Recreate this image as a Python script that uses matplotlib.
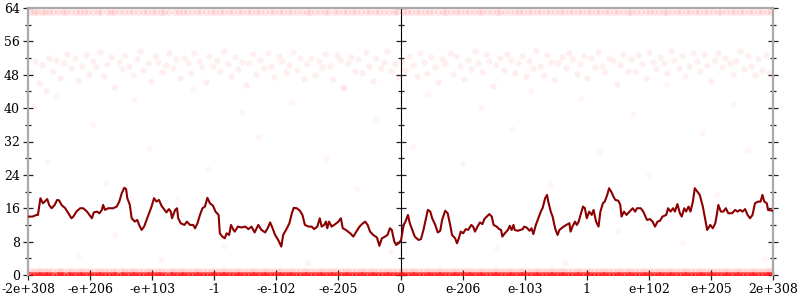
import matplotlib
matplotlib.use("Agg")
import matplotlib.pyplot as plt
from matplotlib.ticker import MultipleLocator, NullFormatter

plt.rcParams['font.family'] = ['DejaVu Serif']

# -----------------------------
# tick labels (ordinal positions of floats)
# -----------------------------
tick_pos = [-6, -5, -4, -3, -2, -1, 0, 1, 2, 3, 4, 5, 6]
tick_labels = ["-2e+308", "-e+206", "-e+103", "-1", "-e-102", "-e-205", "0",
               "e-206", "e-103", "1", "e+102", "e+205", "2e+308"]

# -----------------------------
# average error line
# -----------------------------
line_x = [-6.00, -5.93, -5.86, -5.84, -5.80, -5.76, -5.73, -5.69, -5.66, -5.62, -5.57, -5.53,
          -5.50, -5.46, -5.40, -5.35, -5.30, -5.27, -5.22, -5.16, -5.11, -5.05, -5.01, -4.97,
          -4.94, -4.89, -4.85, -4.81, -4.79, -4.76, -4.71, -4.63, -4.57, -4.53, -4.49, -4.45,
          -4.42, -4.40, -4.36, -4.33, -4.28, -4.24, -4.21, -4.17, -4.13, -4.09, -4.01, -3.97,
          -3.93, -3.89, -3.85, -3.80, -3.77, -3.73, -3.70, -3.68, -3.63, -3.60, -3.58, -3.54,
          -3.48, -3.44, -3.39, -3.34, -3.31, -3.27, -3.23, -3.19, -3.15, -3.11, -3.07, -3.02,
          -2.98, -2.93, -2.91, -2.87, -2.83, -2.80, -2.76, -2.73, -2.69, -2.67, -2.62, -2.56,
          -2.50, -2.45, -2.40, -2.35, -2.29, -2.24, -2.18, -2.14, -2.10, -2.06, -2.02, -1.97,
          -1.92, -1.89, -1.83, -1.79, -1.75, -1.72, -1.67, -1.62, -1.58, -1.54, -1.48, -1.43,
          -1.39, -1.34, -1.30, -1.27, -1.23, -1.20, -1.18, -1.15, -1.11, -1.05, -1.00, -0.96,
          -0.93, -0.88, -0.81, -0.76, -0.72, -0.66, -0.62, -0.57, -0.53, -0.49, -0.44, -0.38,
          -0.34, -0.30, -0.25, -0.21, -0.17, -0.14, -0.10, -0.07, -0.03, 0.01, 0.05, 0.08,
          0.12, 0.15, 0.19, 0.23, 0.29, 0.33, 0.37, 0.41, 0.44, 0.48, 0.51, 0.56,
          0.60, 0.64, 0.67, 0.72, 0.76, 0.80, 0.83, 0.88, 0.91, 0.94, 0.97, 1.01,
          1.05, 1.09, 1.14, 1.17, 1.20, 1.24, 1.28, 1.32, 1.35, 1.39, 1.43, 1.47,
          1.50, 1.55, 1.59, 1.62, 1.64, 1.68, 1.73, 1.76, 1.79, 1.82, 1.84, 1.89,
          1.93, 1.97, 1.99, 2.03, 2.08, 2.11, 2.14, 2.18, 2.22, 2.26, 2.29, 2.33,
          2.36, 2.38, 2.42, 2.45, 2.49, 2.53, 2.56, 2.61, 2.67, 2.72, 2.74, 2.77,
          2.81, 2.84, 2.87, 2.90, 2.94, 2.97, 3.00, 3.04, 3.08, 3.11, 3.15, 3.19,
          3.22, 3.26, 3.29, 3.33, 3.36, 3.40, 3.43, 3.46, 3.51, 3.54, 3.56, 3.60,
          3.64, 3.69, 3.74, 3.78, 3.81, 3.87, 3.91, 3.97, 4.02, 4.06, 4.10, 4.14,
          4.18, 4.22, 4.28, 4.31, 4.35, 4.39, 4.42, 4.46, 4.50, 4.53, 4.57, 4.60,
          4.64, 4.67, 4.71, 4.74, 4.78, 4.82, 4.87, 4.91, 4.94, 4.99, 5.03, 5.07,
          5.09, 5.12, 5.16, 5.20, 5.24, 5.28, 5.34, 5.39, 5.43, 5.47, 5.51, 5.55,
          5.59, 5.63, 5.67, 5.71, 5.76, 5.80, 5.83, 5.86, 5.90, 5.92, 6.00]
line_y = [14.0, 14.0, 14.4, 14.4, 18.4, 17.2, 17.6, 18.2, 16.8, 16.0, 16.8, 18.0,
          17.9, 16.8, 16.0, 14.8, 13.6, 14.0, 15.2, 16.0, 16.0, 15.2, 14.4, 13.6,
          15.0, 15.2, 14.8, 15.6, 16.8, 15.6, 16.0, 16.0, 16.4, 17.6, 19.6, 20.9,
          20.6, 18.4, 16.8, 13.6, 12.8, 13.2, 12.0, 10.8, 11.6, 13.2, 16.4, 18.4,
          17.6, 18.0, 16.6, 15.6, 15.0, 15.8, 15.2, 13.6, 15.6, 16.0, 13.6, 12.4,
          12.0, 12.8, 12.0, 12.0, 11.2, 12.4, 14.4, 16.0, 16.4, 18.5, 17.2, 16.6,
          15.2, 14.4, 10.0, 9.2, 8.8, 10.0, 9.6, 12.0, 10.8, 10.4, 11.6, 11.4,
          11.6, 11.0, 11.6, 10.2, 12.0, 10.8, 10.2, 11.2, 12.6, 11.2, 9.6, 8.4,
          6.8, 9.6, 11.2, 12.4, 14.8, 16.1, 16.0, 15.4, 14.4, 12.0, 11.6, 11.6,
          11.0, 11.6, 13.6, 11.6, 12.0, 12.8, 11.2, 12.8, 11.6, 12.2, 12.8, 13.6,
          11.2, 10.8, 10.0, 9.2, 10.2, 11.6, 12.2, 12.8, 12.0, 10.4, 9.6, 9.0,
          7.0, 8.8, 9.2, 9.6, 11.2, 10.8, 8.0, 7.2, 7.6, 8.4, 12.0, 12.8,
          14.4, 12.4, 10.8, 9.2, 8.4, 8.6, 10.8, 13.6, 15.6, 15.2, 13.6, 12.0,
          10.2, 10.6, 13.2, 15.4, 14.8, 12.0, 9.6, 8.8, 7.6, 8.8, 10.4, 10.0,
          11.0, 10.8, 12.0, 11.6, 10.4, 11.6, 12.6, 12.2, 13.4, 14.0, 14.6, 14.0,
          12.0, 11.6, 11.0, 10.8, 9.2, 10.0, 10.8, 11.8, 10.8, 12.0, 10.8, 10.6,
          10.8, 11.0, 11.6, 11.4, 10.6, 11.2, 9.8, 12.0, 13.6, 15.2, 16.1, 18.4,
          19.2, 17.6, 15.2, 14.0, 11.2, 9.6, 10.8, 11.4, 12.0, 12.4, 10.4, 11.6,
          12.8, 12.0, 12.8, 14.4, 16.4, 16.0, 13.6, 15.2, 14.4, 15.6, 12.8, 11.6,
          15.2, 17.2, 17.6, 19.2, 20.8, 19.8, 18.8, 18.0, 17.8, 16.8, 14.0, 15.2,
          14.4, 15.2, 16.0, 15.2, 16.0, 16.0, 15.2, 13.2, 13.4, 12.8, 11.6, 12.8,
          13.0, 14.0, 14.4, 16.0, 15.2, 16.0, 15.2, 17.0, 14.8, 14.0, 16.0, 15.2,
          16.4, 15.2, 17.6, 20.8, 20.0, 19.2, 16.4, 13.2, 10.8, 12.0, 11.2, 12.4,
          14.0, 16.8, 15.2, 15.2, 16.0, 14.8, 14.8, 15.6, 15.2, 15.6, 15.2, 15.8,
          14.4, 13.6, 14.4, 17.2, 17.6, 17.6, 19.2, 17.6, 17.2, 15.6, 15.4]

# -----------------------------
# individual samples (bits of error)
# -----------------------------
top_x = [-5.97, -5.91, -5.86, -5.78, -5.72, -5.66, -5.59, -5.51, -5.44, -5.38, -5.31, -5.23,
         -5.17, -5.09, -5.03, -4.96, -4.88, -4.82, -4.73, -4.66, -4.61, -4.53, -4.46, -4.38,
         -4.31, -4.23, -4.15, -4.08, -4.01, -3.94, -3.86, -3.81, -3.73, -3.64, -3.57, -3.51,
         -3.44, -3.36, -3.28, -3.21, -3.14, -3.06, -2.99, -2.91, -2.85, -2.76, -2.69, -2.61,
         -2.55, -2.47, -2.41, -2.32, -2.26, -2.18, -2.11, -2.03, -1.96, -1.89, -1.81, -1.74,
         -1.67, -1.59, -1.51, -1.45, -1.37, -1.29, -1.22, -1.16, -1.07, -1.01, -0.93, -0.86,
         -0.78, -0.71, -0.63, -0.56, -0.49, -0.41, -0.34, -0.27, -0.19, -0.11, -0.05, 0.04,
         0.10, 0.17, 0.25, 0.31, 0.39, 0.46, 0.53, 0.61, 0.68, 0.74, 0.82, 0.90,
         0.96, 1.04, 1.11, 1.18, 1.26, 1.32, 1.40, 1.47, 1.55, 1.61, 1.69, 1.76,
         1.84, 1.91, 1.98, 2.06, 2.12, 2.20, 2.27, 2.35, 2.41, 2.49, 2.57, 2.63,
         2.71, 2.78, 2.86, 2.93, 3.00, 3.07, 3.15, 3.22, 3.29, 3.36, 3.44, 3.51,
         3.58, 3.66, 3.72, 3.80, 3.87, 3.95, 4.02, 4.08, 4.16, 4.24, 4.30, 4.38,
         4.45, 4.52, 4.60, 4.67, 4.74, 4.81, 4.89, 4.96, 5.03, 5.11, 5.17, 5.25,
         5.32, 5.39, 5.47, 5.54, 5.61, 5.68, 5.76, 5.83, 5.90, 5.96]
top_y = 63.0

cloud_x = [-5.95, -5.89, -5.83, -5.78, -5.71, -5.66, -5.6, -5.55, -5.48, -5.42, -5.37, -5.31,
           -5.25, -5.2, -5.13, -5.07, -5.02, -4.95, -4.9, -4.84, -4.78, -4.72, -4.66, -4.61,
           -4.54, -4.49, -4.43, -4.37, -4.31, -4.25, -4.19, -4.14, -4.07, -4.02, -3.96, -3.9,
           -3.84, -3.78, -3.73, -3.66, -3.61, -3.55, -3.49, -3.43, -3.37, -3.32, -3.25, -3.2,
           -3.14, -3.08, -3.02, -2.96, -2.9, -2.85, -2.78, -2.73, -2.67, -2.61, -2.55, -2.49,
           -2.44, -2.37, -2.32, -2.26, -2.2, -2.14, -2.08, -2.03, -1.96, -1.91, -1.85, -1.79,
           -1.73, -1.67, -1.62, -1.55, -1.5, -1.44, -1.38, -1.32, -1.26, -1.21, -1.14, -1.09,
           -1.03, -0.97, -0.91, -0.85, -0.8, -0.73, -0.68, -0.62, -0.56, -0.5, -0.44, -0.39,
           -0.32, -0.27, -0.21, -0.15, -0.09, -0.04,
           0.03, 0.08, 0.14, 0.2, 0.26, 0.31, 0.38, 0.43, 0.49, 0.55, 0.61, 0.67,
           0.72, 0.79, 0.84, 0.9, 0.96, 1.02, 1.08, 1.13, 1.2, 1.25, 1.31, 1.37,
           1.43, 1.49, 1.54, 1.61, 1.66, 1.72, 1.78, 1.84, 1.9, 1.95, 2.02, 2.07,
           2.13, 2.19, 2.25, 2.31, 2.36, 2.43, 2.48, 2.54, 2.6, 2.66, 2.72, 2.77,
           2.84, 2.89, 2.95, 3.01, 3.07, 3.13, 3.18, 3.25, 3.3, 3.36, 3.42, 3.48,
           3.54, 3.59, 3.66, 3.71, 3.77, 3.83, 3.89, 3.95, 4.0, 4.07, 4.12, 4.18,
           4.24, 4.3, 4.36, 4.41, 4.48, 4.53, 4.59, 4.65, 4.71, 4.77, 4.82, 4.89,
           4.94, 5.0, 5.06, 5.12, 5.18, 5.23, 5.3, 5.35, 5.41, 5.47, 5.53, 5.59,
           5.64, 5.71, 5.76, 5.82, 5.88, 5.94]
cloud_y = [48.5, 51.2, 46.0, 50.4, 44.2, 52.1, 49.0, 51.6, 47.3, 50.8, 53.0, 49.6,
           51.9, 46.8, 50.2, 52.7, 48.1, 51.3, 49.8, 53.4, 47.6, 50.6, 52.3, 45.1,
           51.0, 49.3, 52.8, 50.0, 47.9, 51.7, 53.6, 49.1, 50.9, 46.5, 52.4, 51.1,
           48.7, 50.3, 53.1, 49.5, 51.8, 47.2, 52.0, 50.7, 48.4, 53.3, 51.4, 49.9,
           46.3, 52.6, 50.1, 51.5, 48.9, 53.8, 50.5, 47.7, 52.2, 49.4, 51.0, 45.6,
           50.8, 52.9, 48.2, 51.6, 49.7, 53.2, 50.0, 47.4, 52.5, 51.2, 48.6, 50.4,
           53.5, 49.2, 51.9, 46.9, 50.6, 52.1, 48.0, 51.3, 49.8, 53.0, 50.2, 47.1,
           52.7, 51.5, 44.8, 50.9, 52.3, 49.0, 51.7, 48.3, 53.4, 50.1, 46.4, 52.0,
           49.6, 51.1, 53.7, 48.8, 50.5, 47.5,
           51.4, 49.2, 52.6, 50.3, 47.8, 53.1, 51.0, 48.5, 52.2, 49.9, 46.2, 51.8,
           50.6, 53.3, 48.1, 52.4, 50.0, 47.0, 51.5, 49.4, 53.6, 50.8, 48.7, 52.9,
           51.2, 45.3, 50.4, 52.0, 49.1, 53.0, 51.6, 48.4, 50.7, 52.5, 47.6, 51.3,
           49.7, 53.9, 50.2, 48.0, 52.8, 51.1, 46.7, 50.9, 52.3, 49.5, 53.2, 51.7,
           48.2, 50.5, 52.6, 47.3, 51.9, 49.8, 53.4, 50.1, 48.6, 52.1, 51.4, 45.9,
           50.3, 53.0, 49.0, 51.8, 48.8, 52.7, 50.6, 47.2, 53.5, 51.0, 49.3, 52.2,
           50.8, 48.3, 53.7, 51.5, 49.6, 52.4, 47.7, 50.0, 53.1, 51.2, 48.9, 52.9,
           50.4, 46.6, 51.6, 53.3, 49.9, 52.0, 50.7, 48.1, 51.3, 53.8, 49.4, 52.5,
           50.2, 47.9, 51.7, 49.2, 52.8, 48.4]

sparse_x = [-5.9, -5.7, -5.55, -5.2, -4.95, -4.75, -4.6, -4.3, -4.05, -3.85, -3.6, -3.35,
            -3.1, -2.85, -2.55, -2.3, -2.05, -1.75, -1.5, -1.2, -0.95, -0.7, -0.4, -0.15,
            0.2, 0.45, 0.7, 1.0, 1.3, 1.55, 1.8, 2.1, 2.4, 2.65, 2.9, 3.2, 3.5, 3.75,
            4.0, 4.3, 4.55, 4.85, 5.1, 5.35, 5.6, 5.85]
sparse_y = [40.5, 27.0, 43.0, 4.5, 36.0, 22.0, 9.5, 42.0, 30.5, 3.5, 18.0, 44.5,
            25.5, 7.0, 39.0, 33.0, 12.5, 41.5, 2.8, 28.0, 45.0, 20.5, 37.5, 5.5,
            31.0, 43.5, 14.0, 26.5, 40.0, 6.5, 35.0, 44.0, 21.5, 3.2, 42.5, 29.5,
            10.5, 38.5, 24.0, 45.5, 8.0, 34.0, 19.5, 41.0, 30.0, 4.0]

low_x = [-5.96, -5.9, -5.84, -5.79, -5.72, -5.67, -5.61, -5.54, -5.49, -5.43, -5.36, -5.31,
         -5.25, -5.18, -5.13, -5.06, -5.0, -4.94, -4.88, -4.82, -4.76, -4.7, -4.63, -4.58,
         -4.51, -4.46, -4.39, -4.33, -4.28, -4.21, -4.15, -4.09, -4.03, -3.97, -3.9, -3.85,
         -3.79, -3.72, -3.67, -3.6, -3.54, -3.48, -3.42, -3.36, -3.3, -3.24, -3.18, -3.12,
         -3.06, -3.0, -2.94, -2.88, -2.82, -2.76, -2.7, -2.64, -2.58, -2.52, -2.46, -2.4,
         -2.34, -2.28, -2.22, -2.16, -2.1, -2.04, -1.98, -1.92, -1.86, -1.8, -1.74, -1.68,
         -1.62, -1.56, -1.5, -1.44, -1.38, -1.32, -1.26, -1.2, -1.14, -1.08, -1.02, -0.96,
         -0.9, -0.84, -0.78, -0.72, -0.66, -0.6, -0.54, -0.48, -0.42, -0.36, -0.3, -0.24,
         -0.18, -0.12, -0.06, 0.0, 0.06, 0.12, 0.18, 0.24, 0.3, 0.36, 0.42, 0.48,
         0.54, 0.6, 0.66, 0.72, 0.78, 0.84, 0.9, 0.96, 1.02, 1.08, 1.14, 1.2,
         1.26, 1.32, 1.38, 1.44, 1.5, 1.56, 1.62, 1.68, 1.74, 1.8, 1.86, 1.92,
         1.98, 2.04, 2.1, 2.16, 2.22, 2.28, 2.34, 2.4, 2.46, 2.52, 2.58, 2.64,
         2.7, 2.76, 2.82, 2.88, 2.94, 3.0, 3.06, 3.12, 3.18, 3.24, 3.3, 3.36,
         3.42, 3.48, 3.54, 3.6, 3.66, 3.72, 3.78, 3.84, 3.9, 3.96, 4.02, 4.08,
         4.14, 4.2, 4.26, 4.32, 4.38, 4.44, 4.5, 4.56, 4.62, 4.68, 4.74, 4.8,
         4.86, 4.92, 4.98, 5.04, 5.1, 5.16, 5.22, 5.28, 5.34, 5.4, 5.46, 5.52,
         5.58, 5.64, 5.7, 5.76, 5.82, 5.88, 5.94, 5.99]
low_y = 1.0
zero_y = 0.0

# -----------------------------
# plot
# -----------------------------
fig = plt.figure(figsize=(8, 3), dpi=100)
ax = fig.add_axes([28 / 800, 25 / 300, 745 / 800, 267 / 300])

ax.scatter(top_x, [top_y] * len(top_x), s=24, color='red', alpha=0.1, linewidths=0, zorder=2)
ax.scatter(cloud_x, cloud_y, s=22, color='red', alpha=0.06, linewidths=0, zorder=2)
ax.scatter(sparse_x, sparse_y, s=22, color='red', alpha=0.04, linewidths=0, zorder=2)
ax.scatter(low_x, [low_y] * len(low_x), s=24, color='red', alpha=0.1, linewidths=0, zorder=2)
ax.scatter(low_x, [zero_y] * len(low_x), s=26, color='red', alpha=0.6, linewidths=0, zorder=2)
ax.plot(line_x, line_y, color='#8b0000', linewidth=1.5, zorder=3)

ax.set_xlim(-6, 6)
ax.set_ylim(0, 64)
ax.set_xticks(tick_pos)
ax.set_xticklabels(tick_labels)
ax.yaxis.set_major_locator(MultipleLocator(8))
ax.yaxis.set_minor_locator(MultipleLocator(4))

for side in ['left', 'right', 'top', 'bottom']:
    ax.spines[side].set_color('#aaaaaa')
    ax.spines[side].set_linewidth(1.6)
ax.spines['bottom'].set_visible(False)

ax.tick_params(axis='both', which='major', direction='inout', length=7.5, width=0.9,
               color='#222222', labelsize=9, pad=2)
ax.tick_params(axis='y', which='minor', direction='inout', length=4.5, width=0.9, color='#222222')
ax.tick_params(axis='y', which='both', right=True, labelright=False)

# middle axis at zero (gray line with ticks, no labels)
mid = ax.secondary_yaxis(0.5)
mid.yaxis.set_major_locator(MultipleLocator(8))
mid.yaxis.set_minor_locator(MultipleLocator(4))
mid.yaxis.set_major_formatter(NullFormatter())
mid.spines['left'].set_color('#aaaaaa')
mid.spines['left'].set_linewidth(1.6)
mid.tick_params(axis='y', which='major', direction='inout', length=7.5, width=0.9, color='#222222')
mid.tick_params(axis='y', which='minor', direction='inout', length=4.5, width=0.9, color='#222222')

plt.savefig('out.png', dpi=100)
